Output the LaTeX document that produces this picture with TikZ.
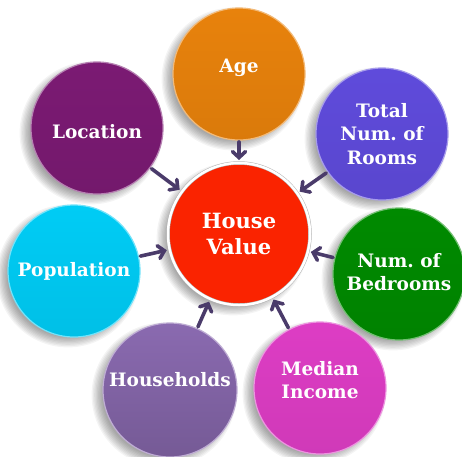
\documentclass[tikz,border=0pt]{standalone}
\usepackage{fontspec}
\setmainfont{DejaVu Serif}
\usetikzlibrary{arrows.meta,calc}
\definecolor{hvC}{HTML}{FA2300}
\definecolor{ageC}{HTML}{E8820C}
\definecolor{roomsC}{HTML}{5F4BDB}
\definecolor{bedsC}{HTML}{008A00}
\definecolor{incomeC}{HTML}{DD3DC4}
\definecolor{houseC}{HTML}{8A6AB0}
\definecolor{popC}{HTML}{00CCF5}
\definecolor{locC}{HTML}{7B1A73}
\definecolor{arrowC}{HTML}{4A3B6A}
\begin{document}
\begin{tikzpicture}[x=1pt,y=-1pt,
  bubble/.style={circle, minimum size=132pt, inner sep=0pt, outer sep=0pt,
    top color=#1, bottom color=#1!94!black, draw=#1!55!white,
    line width=1.2pt},
  hub/.style={circle, minimum size=142pt, inner sep=0pt, outer sep=0pt,
    fill=hvC, draw=black!30, double=white, double distance=2.5pt,
    line width=0.5pt},
  caption/.style={text=white, align=center, inner sep=0pt,
    font=\bfseries\fontsize{18.5}{23.5}\selectfont},
  bigcaption/.style={text=white, align=center, inner sep=0pt,
    font=\bfseries\fontsize{21}{26}\selectfont},
  feed/.style={draw=arrowC, line width=3.6pt, line cap=round,
    -{Straight Barb[length=6pt,width=13pt,line cap=round]},
    shorten <=2pt, shorten >=3pt}]
  \useasboundingbox (0,0) rectangle (462,456);
  \fill[white] (0,0) rectangle (462,456);

  % soft drop shadows, offset towards the lower left
  \foreach \cx/\cy/\r in {239/234/71,239/74/66,382/134/66,399/274/66,
      320/388/66,170/390/67,74/271/66,97/128/66}
    \foreach \k in {0,...,8}
      \fill[black, opacity=0.045] (\cx-6,\cy+5) circle[radius=\r-5+\k*1.3];

  % centre and surrounding factors
  \node[hub] (hv) at (239,234) {};
  \node[bubble=ageC] (age) at (239,74) {};
  \node[bubble=roomsC] (rooms) at (382,134) {};
  \node[bubble=bedsC] (beds) at (399,274) {};
  \node[bubble=incomeC] (income) at (320,388) {};
  \node[bubble=houseC, bottom color=houseC!85!black, minimum size=134pt]
    (house) at (170,390) {};
  \node[bubble=popC] (pop) at (74,271) {};
  \node[bubble=locC] (loc) at (97,128) {};

  % captions
  \node[bigcaption] (hv-t) at (hv.center) {House\\Value};
  \node[caption] (age-t) at ($(age.center)+(0,-6)$) {Age};
  \node[caption] (rooms-t) at (rooms.center) {Total\\Num.\ of\\Rooms};
  \node[caption] (beds-t) at ($(beds.center)+(0,-2)$) {Num.\ of\\Bedrooms};
  \node[caption] (income-t) at ($(income.center)+(0,-8)$) {Median\\Income};
  \node[caption] (house-t) at ($(house.center)+(0,-10)$) {Households};
  \node[caption] (pop-t) at (pop.center) {Population};
  \node[caption] (loc-t) at ($(loc.center)+(0,4)$) {Location};

  % influences pointing at the centre
  \foreach \src in {age,rooms,beds,income,house,pop,loc}
    \draw[feed] (\src) -- (hv);
\end{tikzpicture}
\end{document}
